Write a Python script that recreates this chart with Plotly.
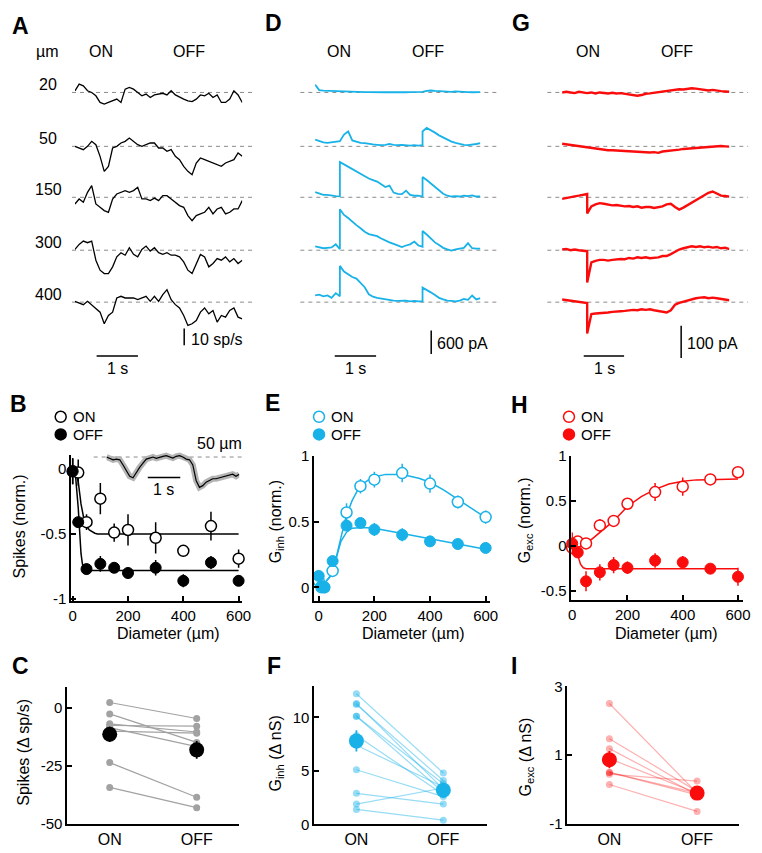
import plotly.graph_objects as go

# page body adds an 8 px margin, so the figure is drawn 8 px in from the top-left
PAD = 8
W, H = 762 - PAD, 853 - PAD
FONT = "Arial, Liberation Sans, sans-serif"
CYAN = "rgb(24,178,232)"
CYAN_L = "rgba(24,178,232,0.45)"
RED = "rgb(250,12,12)"
RED_L = "rgba(250,12,12,0.32)"

# ---------------- data ----------------
# time bases (s); the step time base repeats the ON (0.6 s) and OFF (2.6 s) instants
t_rate = [0.0, 0.1, 0.2, 0.3, 0.4, 0.5, 0.6, 0.7, 0.8, 0.9, 1.0, 1.1, 1.2, 1.3, 1.4, 1.5,
          1.6, 1.7, 1.8, 1.9, 2.0, 2.1, 2.2, 2.3, 2.4, 2.5, 2.6, 2.7, 2.8, 2.9, 3.0, 3.1,
          3.2, 3.3, 3.4, 3.5, 3.6, 3.7, 3.8, 3.9, 4.0]
t_step = [0.0, 0.1, 0.2, 0.3, 0.4, 0.5, 0.6, 0.6, 0.7, 0.8, 0.9, 1.0, 1.1, 1.2, 1.3, 1.4,
          1.5, 1.6, 1.7, 1.8, 1.9, 2.0, 2.1, 2.2, 2.3, 2.4, 2.5, 2.6, 2.6, 2.7, 2.8, 2.9,
          3.0, 3.1, 3.2, 3.3, 3.4, 3.5, 3.6, 3.7, 3.8, 3.9, 4.0]

diam_labels = ["20", "50", "150", "300", "400"]

# A: spike rate change (sp/s)
a20 = [1, 5, 4, 1, 0, -2, -6, -7, -6, -5, -4, -6, 2, 3, 2, 0, -2, -1, -3, -1.5, -1, -0.5,
       -1.5, 1, -1.5, -3, -4, -5, -5.5, -4, -1.5, -2, -0.5, -3, -1.5, -6, -6, -4, 1, -1.5, -6]
a50 = [0, -1, -2, 0, 3, 1, -6, -15, -12, -1, 0, 2, 3, 5, 3, 1, 0, 1, 2, 2, -1, -1, -3, -2,
       -6, -8, -12, -15, -17, -10, -7, -8, -9, -10, -11, -12, -10, -9, -8, -4, -6]
a150 = [-4, -1, -3, 3, 7, -4, -6, -8, -9, -1, 2, 3, 4, 3, 4, 6, -1, -1, -2, -0.5, -2, 1, 1,
        -1, -3, -5, -6, -11, -14, -11, -10, -9, -6, -10, -7, -6, -10, -9, -7, -7, -2]
a300 = [0.5, 3.5, 5.5, 4.5, 5.5, -6, -12, -14, -14, -10, -4, -1.5, -3, 1.5, -2.5, -4, 0.5,
        2.5, -0.5, 1.5, -1.5, -2.5, -1.5, -3, -3, -4, -7, -12, -14, -8, -2.5, -4, -10, -8,
        -5, -6, -4, -7, -5, -8, -6]
a400 = [0.5, -0.5, -1.5, 0.5, -1.5, -3.5, -6, -13, -8, -6, 2.5, 3.5, 2.5, 2.5, 2.5, 1.5,
        2.5, 3.5, 0.5, 3.5, 0.5, 4.5, 7.5, 1.5, -1.5, -3.5, -8, -14, -13, -11, -6, -3.5, -7,
        -5, -12, -8, -9, -5, -3.5, -9, -10]

# D: inhibitory currents (pA)
d20 = [200, 60, 45, 40, 35, 30, 30, 30, 25, 20, 20, 15, 15, 10, 10, 5, 10, 5, 5, 10, 5, 10,
       10, 5, 10, 10, 10, 15, 15, 40, 50, 40, 30, 20, 20, 15, 25, 15, 10, 10, 5, 5, 10]
d50 = [170, 130, 100, 90, 100, 110, 130, 130, 300, 380, 150, 110, 90, 80, 60, 50, 40, 30,
       40, 60, 40, 30, 40, 30, 20, 30, 20, 30, 380, 470, 420, 350, 280, 220, 160, 120, 90,
       60, 40, 30, 40, 60, 80]
d150 = [130, 85, 60, 60, 40, 30, 25, 900, 840, 780, 700, 640, 580, 530, 480, 440, 400, 330,
        260, 300, 120, 90, 80, 170, 60, 40, 40, 20, 520, 440, 350, 260, 170, 90, 40, 20, 30,
        20, 40, 30, 50, 20, 20]
d300 = [100, 70, 50, 60, 70, 150, 30, 1045, 900, 820, 720, 640, 560, 470, 410, 390, 360,
        300, 240, 200, 160, 110, 80, 120, 150, 220, 120, 90, 490, 400, 300, 200, 130, 60, 20,
        -10, 20, 40, 60, 180, 50, 40, 40]
d400 = [170, 190, 150, 170, 110, 230, 150, 925, 780, 700, 640, 600, 480, 380, 200, 140, 110,
        90, 70, 50, 40, 30, 30, 40, 20, 30, 20, 20, 370, 320, 250, 180, 110, 70, 40, 30, 20,
        40, 80, 60, 170, 70, 100]

# G: excitatory currents (pA)
g20 = [0, 2, 0, -2, 2, 0, -2, -2, 0, -3, 0, -2, -3, -1, -3, -2, -4, -6, -9, -10, -8, -4, -3,
       -1, 0, 2, 4, 5, 5, 8, 10, 9, 11, 13, 12, 10, 8, 6, 8, 5, 4, 3, 2]
g50 = [8, 6, 5, 2, 0, -2, -3, -3, -4, -6, -8, -10, -12, -12, -13, -14, -15, -16, -17, -18,
       -18, -19, -19, -18, -20, -16, -15, -13, -13, -12, -10, -8, -7, -5, -4, -3, -2, -1, 0,
       0, 1, 0, -1]
g150 = [-5, -2, 2, 3, 5, 8, 10, -50, -28, -22, -18, -20, -22, -25, -24, -26, -28, -27, -30,
        -28, -32, -30, -30, -33, -30, -28, -22, -20, -20, -30, -38, -32, -24, -16, -8, 0, 8,
        14, 18, 12, 5, 4, 2]
g300 = [2, 4, 0, 2, 0, -2, -3, -100, -38, -33, -30, -30, -32, -30, -28, -27, -28, -24, -26,
        -22, -24, -22, -25, -24, -22, -18, -18, -12, -12, -4, 2, 6, 8, 12, 10, 12, 9, 11, 8,
        10, 6, 8, 3]
g400 = [8, 6, 4, 2, 0, -2, -3, -97, -37, -35, -34, -35, -32, -30, -30, -28, -27, -25, -24,
        -25, -22, -24, -22, -25, -27, -30, -32, -25, -25, -8, -2, 2, 5, 10, 12, 14, 15, 12,
        14, 12, 10, 8, 6]

# B inset: mean 50 um response (sp/s)
inset50 = [0, -0.6, -1.6, -1.2, -1.6, -4.6, -7.6, -11.2, -12, -8.6, -6, -3.6, -1.2, -0.6, 0,
           -0.8, 0, 0.4, 0.8, 0, -0.6, 0.4, 0.8, 0, -1.2, -1.6, -4.6, -13.6, -17.6, -16.6,
           -14.6, -13.6, -12.6, -12.6, -12, -11.6, -11.2, -10.6, -10, -11.2, -10]

# B: normalised spikes vs diameter
b_x = [0, 20, 50, 100, 150, 200, 300, 400, 500, 600]
b_on = [-0.02, -0.03, -0.41, -0.23, -0.49, -0.47, -0.53, -0.63, -0.44, -0.69]
b_on_err = [0.1, 0.1, 0.06, 0.12, 0.07, 0.12, 0.12, 0.04, 0.11, 0.07]
b_off = [-0.02, -0.41, -0.77, -0.73, -0.76, -0.80, -0.76, -0.86, -0.72, -0.86]
b_off_err = [0.1, 0.04, 0.04, 0.06, 0.04, 0.04, 0.06, 0.05, 0.05, 0.04]
b_fit_on_x = [0, 10, 20, 30, 40, 50, 60, 70, 80, 90, 100, 600]
b_fit_on_y = [0, -0.02, -0.1, -0.27, -0.38, -0.44, -0.47, -0.485, -0.495, -0.5, -0.5, -0.5]
b_fit_off_x = [0, 10, 20, 25, 30, 35, 40, 50, 60, 600]
b_fit_off_y = [0, -0.05, -0.3, -0.5, -0.65, -0.73, -0.76, -0.775, -0.78, -0.78]

# E: normalised inhibition vs diameter
e_x = [0, 10, 20, 50, 100, 150, 200, 300, 400, 500, 600]
e_on = [0.05, 0.0, 0.0, 0.125, 0.57, 0.77, 0.82, 0.87, 0.79, 0.65, 0.535]
e_on_err = [0.03, 0.03, 0.03, 0.03, 0.07, 0.055, 0.06, 0.07, 0.07, 0.05, 0.05]
e_off = [0.087, 0.01, 0.0, 0.2, 0.47, 0.49, 0.44, 0.40, 0.35, 0.33, 0.30]
e_off_err = [0.03, 0.03, 0.03, 0.04, 0.04, 0.03, 0.05, 0.05, 0.04, 0.04, 0.03]
e_fit_on_x = [0, 20, 40, 60, 80, 100, 120, 140, 160, 180, 200, 240, 280, 320, 360, 400,
              450, 500, 550, 600]
e_fit_on_y = [0.02, 0.03, 0.08, 0.2, 0.38, 0.55, 0.66, 0.74, 0.79, 0.82, 0.84, 0.86, 0.86,
              0.85, 0.83, 0.80, 0.74, 0.67, 0.60, 0.53]
e_fit_off_x = [0, 20, 40, 60, 80, 100, 120, 140, 160, 200, 250, 300, 400, 500, 600]
e_fit_off_y = [0.03, 0.03, 0.08, 0.2, 0.35, 0.42, 0.45, 0.455, 0.455, 0.45, 0.43, 0.41,
               0.37, 0.33, 0.29]

# H: normalised excitation vs diameter
h_x = [0, 20, 50, 100, 150, 200, 300, 400, 500, 600]
h_on = [-0.02, 0.05, 0.03, 0.23, 0.28, 0.47, 0.60, 0.66, 0.74, 0.82]
h_on_err = [0.03, 0.04, 0.03, 0.07, 0.06, 0.06, 0.1, 0.1, 0.06, 0.06]
h_off = [0.03, -0.07, -0.39, -0.29, -0.21, -0.24, -0.16, -0.18, -0.25, -0.34]
h_off_err = [0.12, 0.05, 0.11, 0.09, 0.09, 0.07, 0.08, 0.07, 0.05, 0.1]
h_fit_on_x = [0, 20, 40, 60, 80, 100, 125, 150, 175, 200, 250, 300, 350, 400, 450, 500, 600]
h_fit_on_y = [0.0, 0.0, 0.02, 0.05, 0.1, 0.15, 0.21, 0.28, 0.36, 0.44, 0.55, 0.63, 0.69,
              0.72, 0.735, 0.74, 0.745]
h_fit_off_x = [0, 10, 20, 30, 40, 50, 600]
h_fit_off_y = [0.0, -0.03, -0.1, -0.2, -0.24, -0.25, -0.25]

# C, F, I: paired cells, ON vs OFF
conds = ["ON", "OFF"]
c_on = [2.4, -2.5, -6.8, -7.5, -8.4, -9.9, -23.5, -34.2]
c_off = [-4.5, -14.8, -10.3, -7.8, -16.6, -10.8, -38.4, -42.9]
c_mean = [-11.3, -18.0]
c_sem = [3.3, 3.8]
f_on = [12.2, 11.3, 11.2, 10.1, 10.1, 8.3, 7.4, 5.1, 2.9, 1.9, 1.4]
f_off = [4.8, 3.3, 4.1, 3.0, 3.8, 2.8, 3.5, 2.6, 1.9, 3.4, 0.4]
f_mean = [7.8, 3.2]
f_sem = [1.0, 0.7]
i_on = [2.5, 1.48, 1.19, 0.9, 0.5, 0.45, 0.5, 0.15]
i_off = [-0.1, -0.05, -0.15, -0.1, -0.1, 0.25, -0.15, -0.63]
i_mean = [0.87, -0.1]
i_sem = [0.25, 0.08]

# ---------------- layout helpers (all positions in page pixels) ----------------
fig = go.Figure()
layout = {}
ann = []
shapes = []
n_ax = [0]


def fx(px):
    return (px - PAD) / W


def fy(py):
    return 1 - (py - PAD) / H


def axes(x0, x1, ytop, ybot, xr, yr):
    n_ax[0] += 1
    s = "" if n_ax[0] == 1 else str(n_ax[0])
    layout["xaxis" + s] = dict(domain=[fx(x0), fx(x1)], range=xr, anchor="y" + s,
                               visible=False, fixedrange=True)
    layout["yaxis" + s] = dict(domain=[fy(ybot), fy(ytop)], range=yr,
                               anchor="x" + s, visible=False, fixedrange=True)
    return "x" + s, "y" + s


def show(ax, vals=None, texts=None, ticks="inside", size=15):
    name = ax[0] + "axis" + ax[1:]
    layout[name].update(visible=True, showline=True, linecolor="black", linewidth=1.5,
                        ticks=ticks, ticklen=5, tickwidth=1.5, tickcolor="black",
                        showgrid=False, zeroline=False,
                        tickfont=dict(size=size, family=FONT, color="black"))
    if vals is not None:
        layout[name].update(tickmode="array", tickvals=vals, ticktext=texts)


def txt(x, y, s, size=16, xanchor="center", bold=False, angle=0):
    if bold:
        s = "<b>" + s + "</b>"
    ann.append(dict(x=fx(x), y=fy(y), xref="paper", yref="paper", text=s,
                    showarrow=False, xanchor=xanchor, yanchor="middle", textangle=angle,
                    font=dict(size=size, family=FONT, color="black")))


def pline(x0, y0, x1, y1, color="black", width=1.5):
    shapes.append(dict(type="line", xref="paper", yref="paper", x0=fx(x0), x1=fx(x1),
                       y0=fy(y0), y1=fy(y1), line=dict(color=color, width=width)))


def dot(cx, cy, fill, edge):
    shapes.append(dict(type="circle", xref="paper", yref="paper", xsizemode="pixel",
                       ysizemode="pixel", xanchor=fx(cx), yanchor=fy(cy),
                       x0=-5.5, x1=5.5, y0=-5.5, y1=5.5, fillcolor=fill,
                       line=dict(color=edge, width=1.5)))


def baseline(ya, x0, x1):
    shapes.append(dict(type="line", xref="paper", yref=ya, x0=fx(x0), x1=fx(x1), y0=0, y1=0,
                       layer="below", line=dict(color="#8c8c8c", width=1, dash="4px,4px")))


# ---------------- top row: example traces ----------------
base_y = [85, 140, 192, 246, 299]
A_PX, D_PX, G_PX = 1.7, 24 / 600, 33 / 100   # px per unit (from the scale bars)

for vals, yb in zip([a20, a50, a150, a300, a400], base_y):
    xa, ya = axes(73, 243, yb - 20, yb + 35, [0, 4], [-35 / A_PX, 20 / A_PX])
    baseline(ya, 70, 253)
    fig.add_trace(go.Scatter(x=t_rate, y=vals, xaxis=xa, yaxis=ya, mode="lines",
                             line=dict(color="black", width=1.3)))

for vals, yb in zip([d20, d50, d150, d300, d400], base_y):
    xa, ya = axes(317, 485, yb - 48, yb + 8, [0, 4], [-8 / D_PX, 48 / D_PX])
    baseline(ya, 302, 503)
    fig.add_trace(go.Scatter(x=t_step, y=vals, xaxis=xa, yaxis=ya, mode="lines",
                             line=dict(color=CYAN, width=1.8)))

for vals, yb in zip([g20, g50, g150, g300, g400], base_y):
    xa, ya = axes(568, 738, yb - 15, yb + 40, [0, 4], [-40 / G_PX, 15 / G_PX])
    baseline(ya, 553, 757)
    fig.add_trace(go.Scatter(x=t_step, y=vals, xaxis=xa, yaxis=ya, mode="lines",
                             line=dict(color=RED, width=2.4)))

txt(45, 43, "µm")
for lab, yb in zip(diam_labels, base_y):
    txt(46, yb - 8, lab)
for cx_on, cx_off in [(99, 189), (341, 432), (594, 685)]:
    txt(cx_on, 43, "ON")
    txt(cx_off, 43, "OFF")

# scale bars
pline(184, 326, 184, 343)
pline(95, 354, 137, 354)
txt(189, 337, "10 sp/s", xanchor="left")
txt(116, 367, "1 s")
pline(435, 328, 435, 352)
pline(337, 354, 379, 354)
txt(439, 341, "600 pA", xanchor="left")
txt(358, 367, "1 s")
pline(689, 323, 689, 356)
pline(590, 354, 631, 354)
txt(693, 341, "100 pA", xanchor="left")
txt(611, 367, "1 s")


# ---------------- middle row: size tuning ----------------
def tuning(xa, ya, x, on, on_err, off, off_err, fits, color):
    for fxs, fys in fits:
        fig.add_trace(go.Scatter(x=fxs, y=fys, xaxis=xa, yaxis=ya, mode="lines",
                                 line=dict(color=color, width=1.5), cliponaxis=False))
    fig.add_trace(go.Scatter(
        x=x, y=on, xaxis=xa, yaxis=ya, mode="markers", cliponaxis=False,
        error_y=dict(type="data", array=on_err, color=color, thickness=1.5, width=0),
        marker=dict(size=11, color="white", line=dict(color=color, width=1.5))))
    fig.add_trace(go.Scatter(
        x=x, y=off, xaxis=xa, yaxis=ya, mode="markers", cliponaxis=False,
        error_y=dict(type="data", array=off_err, color=color, thickness=1.5, width=0),
        marker=dict(size=11, color=color, line=dict(color=color, width=1))))


xb, yb_ = axes(69, 243, 455, 604, [-6.05, 613.2], [-1.015, 0.105])
show(xb, [0, 200, 400, 600], ["0", "200", "400", "600"])
show(yb_, [-1, -0.5, 0], ["-1", "-0.5", "0"])
tuning(xb, yb_, b_x, b_on, b_on_err, b_off, b_off_err,
       [(b_fit_on_x, b_fit_on_y), (b_fit_off_x, b_fit_off_y)], "black")

# inset (50 um mean response)
xi, yi = axes(105, 240, 440, 497, [0, 4], [-22.7, 9.7])
baseline(yi, 92, 245)
fig.add_trace(go.Scatter(x=t_rate, y=inset50, xaxis=xi, yaxis=yi, mode="lines",
                         line=dict(color="#b4b4b4", width=6)))
fig.add_trace(go.Scatter(x=t_rate, y=inset50, xaxis=xi, yaxis=yi, mode="lines",
                         line=dict(color="black", width=1.2)))
pline(147, 478, 180, 478)
txt(163, 490, "1 s")
txt(220, 443, "50 µm")

xe, ye = axes(316, 495, 456, 604, [-16.6, 616.5], [-0.104, 1.0])
show(xe, [0, 200, 400, 600], ["0", "200", "400", "600"])
show(ye, [0, 0.5, 1], ["0", "0.5", "1"])
tuning(xe, ye, e_x, e_on, e_on_err, e_off, e_off_err,
       [(e_fit_on_x, e_fit_on_y), (e_fit_off_x, e_fit_off_y)], CYAN)

xh, yh = axes(577.5, 752, 456, 603, [-2.8, 618.8], [-0.598, 1.0])
show(xh, [0, 200, 400, 600], ["0", "200", "400", "600"])
show(yh, [-0.5, 0, 0.5, 1], ["-0.5", "0", "0.5", "1"])
tuning(xh, yh, h_x, h_on, h_on_err, h_off, h_off_err,
       [(h_fit_on_x, h_fit_on_y), (h_fit_off_x, h_fit_off_y)], RED)

# legends
for lx, color in [(58.5, "black"), (321, CYAN), (575, RED)]:
    dot(lx, 416, "white", color)
    dot(lx, 434, color, color)
    txt(lx + 10, 416, "ON", xanchor="left", size=15)
    txt(lx + 10, 434, "OFF", xanchor="left", size=15)

txt(17, 528, "Spikes (norm.)", angle=-90)
txt(278, 523, "G<sub>inh</sub> (norm.)", angle=-90)
txt(531, 522, "G<sub>exc</sub> (norm.)", angle=-90)
for cx in [168, 417, 674]:
    txt(cx, 637, "Diameter (µm)")


# ---------------- bottom row: paired ON/OFF ----------------
def paired(xa, ya, on, off, mean, sem, light, dark, line_w):
    for a, b in zip(on, off):
        fig.add_trace(go.Scatter(x=conds, y=[a, b], xaxis=xa, yaxis=ya,
                                 mode="lines+markers", cliponaxis=False,
                                 line=dict(color=light, width=line_w),
                                 marker=dict(size=7, color=light)))
    fig.add_trace(go.Scatter(
        x=conds, y=mean, xaxis=xa, yaxis=ya, mode="markers", cliponaxis=False,
        error_y=dict(type="data", array=sem, color=dark, thickness=1.8, width=0),
        marker=dict(size=15, color=dark)))


xc, yc = axes(65, 240, 691.7, 831.7, [-0.49, 1.49], [-50, 9.1])
layout["xaxis" + xc[1:]].update(type="category", categoryorder="array", categoryarray=conds)
show(xc, ticks="", size=16)
show(yc, [-50, -25, 0], ["-50", "-25", "0"])
paired(xc, yc, c_on, c_off, c_mean, c_sem, "#a2a2a2", "black", 1.2)

xf, yf = axes(316, 492, 691, 832, [-0.487, 1.506], [0, 12.9])
layout["xaxis" + xf[1:]].update(type="category", categoryorder="array", categoryarray=conds)
show(xf, ticks="", size=16)
show(yf, [0, 5, 10], ["0", "5", "10"])
paired(xf, yf, f_on, f_off, f_mean, f_sem, CYAN_L, CYAN, 1.2)

xI, yI = axes(573.3, 748, 691, 831.7, [-0.48, 1.48], [-1, 3])
layout["xaxis" + xI[1:]].update(type="category", categoryorder="array", categoryarray=conds)
show(xI, ticks="", size=16)
show(yI, [-1, 1, 3], ["-1", "1", "3"])
paired(xI, yI, i_on, i_off, i_mean, i_sem, RED_L, RED, 1.2)

txt(21, 758, "Spikes (Δ sp/s)", angle=-90)
txt(278, 760, "G<sub>inh</sub> (Δ nS)", angle=-90)
txt(532, 763, "G<sub>exc</sub> (Δ nS)", angle=-90)

# panel letters
for lab, x, y in [("A", 18, 17), ("D", 275, 14), ("G", 526, 14),
                  ("B", 16, 403), ("E", 274, 402), ("H", 525, 404),
                  ("C", 18, 670), ("F", 275, 670), ("I", 519, 670)]:
    txt(x, y, lab, size=23, bold=True)

fig.update_layout(**layout)
fig.update_layout(width=W, height=H, margin=dict(l=0, r=0, t=0, b=0),
                  paper_bgcolor="white", plot_bgcolor="rgba(0,0,0,0)",
                  showlegend=False, annotations=ann, shapes=shapes,
                  font=dict(family=FONT, color="black"))
fig.write_html("out.html")
